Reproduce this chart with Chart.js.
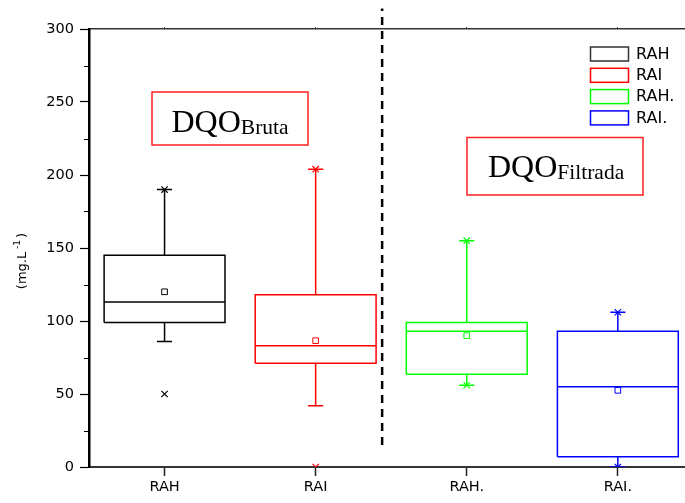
<!DOCTYPE html>
<html>
<head>
<meta charset="utf-8">
<script src="https://cdn.jsdelivr.net/npm/chart.js@4/dist/chart.umd.min.js"></script>
<style>
  html, body { margin: 0; padding: 0; background: #fff; }
  #wrap { width: 685px; height: 503px; overflow: hidden; position: relative; }
  canvas { display: block; }
</style>
</head>
<body>
<div id="wrap"><canvas id="box-chart" width="700" height="503"></canvas></div>
<script>
// dados (mg.L-1)
const categorias = ["RAH", "RAI", "RAH.", "RAI."];
const q1 = [99, 71, 63.5, 7];
const mediana = [113, 83, 93, 55];
const q3 = [145, 118, 99, 93];
const media = [120, 86.5, 90, 52.5];
const bigodeMin = [86, 42, 56, 0];
const bigodeMax = [190, 204, 155, 106];
const minimos = [50, 0, 56, 0];
const maximos = [190, 204, 155, 106];
const yTicks = [0, 50, 100, 150, 200, 250, 300];
const cores = ["#000000", "#ff0000", "#00ff00", "#0000ff"];

const meiaLargura = 0.4; // metade da largura da caixa
const meiaHaste = 0.05;  // metade do traço do bigode
const separador = 2.44;  // linha tracejada entre Bruta e Filtrada

// monta os datasets de cada caixa
const datasets = [];
categorias.forEach((cat, i) => {
  const x = i + 1;
  const cor = cores[i];
  const base = { type: "line", borderColor: cor, borderWidth: 1.5, pointRadius: 0, fill: false, tension: 0 };

  datasets.push({
    ...base,
    label: cat,
    data: [
      { x: x - meiaLargura, y: q1[i] },
      { x: x + meiaLargura, y: q1[i] },
      { x: x + meiaLargura, y: q3[i] },
      { x: x - meiaLargura, y: q3[i] },
      { x: x - meiaLargura, y: q1[i] },
    ],
  });

  datasets.push({
    ...base,
    data: [
      { x: x - meiaLargura, y: mediana[i] },
      { x: x + meiaLargura, y: mediana[i] },
    ],
  });

  datasets.push({
    ...base,
    spanGaps: false,
    data: [
      { x: x, y: q3[i] }, { x: x, y: bigodeMax[i] }, { x: x, y: null },
      { x: x, y: q1[i] }, { x: x, y: bigodeMin[i] }, { x: x, y: null },
      { x: x - meiaHaste, y: bigodeMax[i] }, { x: x + meiaHaste, y: bigodeMax[i] }, { x: x, y: null },
      { x: x - meiaHaste, y: bigodeMin[i] }, { x: x + meiaHaste, y: bigodeMin[i] },
    ],
  });

  datasets.push({
    type: "line",
    showLine: false,
    data: [{ x: x, y: media[i] }],
    pointStyle: "rect",
    pointRadius: 4,
    pointBorderWidth: 1,
    pointBorderColor: cor,
    pointBackgroundColor: "#fff",
  });

  datasets.push({
    type: "line",
    showLine: false,
    data: [{ x: x, y: minimos[i] }, { x: x, y: maximos[i] }],
    pointStyle: "crossRot",
    pointRadius: 4.5,
    pointBorderWidth: 1.2,
    pointBorderColor: cor,
  });
});

// linha tracejada separando os grupos
datasets.push({
  type: "line",
  data: [{ x: separador, y: 15 }, { x: separador, y: 314 }],
  borderColor: "#000",
  borderWidth: 2.5,
  borderDash: [8, 6],
  pointRadius: 0,
  clip: false,
});

// legenda, caixas de texto e detalhes do eixo
const extras = {
  id: "extras",
  afterDraw(chart) {
    const ctx = chart.ctx;
    const y = chart.scales.y;
    const area = chart.chartArea;
    ctx.save();

    // ticks menores do eixo y
    ctx.strokeStyle = "#000";
    ctx.lineWidth = 1;
    for (let v = 25; v < 300; v += 50) {
      const py = Math.round(y.getPixelForValue(v)) + 0.5;
      ctx.beginPath();
      ctx.moveTo(area.left - 5, py);
      ctx.lineTo(area.left, py);
      ctx.stroke();
    }

    // título do eixo y
    ctx.save();
    ctx.translate(26, 262);
    ctx.rotate(-Math.PI / 2);
    ctx.fillStyle = "#000";
    ctx.textBaseline = "alphabetic";
    ctx.font = "13px 'DejaVu Sans'";
    const t1 = "(mg.L";
    const w1 = ctx.measureText(t1).width;
    ctx.font = "9px 'DejaVu Sans'";
    const t2 = " -1";
    const w2 = ctx.measureText(t2).width;
    ctx.font = "13px 'DejaVu Sans'";
    const w3 = ctx.measureText(")").width;
    let sx = -(w1 + w2 + w3) / 2;
    ctx.fillText(t1, sx, 0);
    ctx.font = "9px 'DejaVu Sans'";
    ctx.fillText(t2, sx + w1, -6);
    ctx.font = "13px 'DejaVu Sans'";
    ctx.fillText(")", sx + w1 + w2 + 2, 0);
    ctx.restore();

    // legenda
    ctx.font = "16px 'DejaVu Sans'";
    ctx.textBaseline = "middle";
    categorias.forEach((cat, i) => {
      const ly = 47 + i * 21.3;
      ctx.strokeStyle = i === 0 ? "#333" : cores[i];
      ctx.lineWidth = 1.5;
      ctx.strokeRect(590.5, ly, 38, 14);
      ctx.fillStyle = "#000";
      ctx.fillText(cat, 636, ly + 7.5);
    });

    // caixas DQO
    const caixa = (x, yTop, w, h, tx, base, sub) => {
      ctx.strokeStyle = "#ff2020";
      ctx.lineWidth = 1.5;
      ctx.strokeRect(x, yTop, w, h);
      ctx.fillStyle = "#000";
      ctx.textBaseline = "alphabetic";
      ctx.font = "32px 'Liberation Serif'";
      ctx.fillText("DQO", tx, base);
      const dw = ctx.measureText("DQO").width;
      ctx.font = "21.5px 'Liberation Serif'";
      ctx.fillText(sub, tx + dw, base + 2.5);
    };
    caixa(152, 92, 156, 53, 171.5, 131.5, "Bruta");
    caixa(467, 137.5, 176, 57.5, 488, 176.5, "Filtrada");

    ctx.restore();
  },
};

const ctx1 = document.getElementById("box-chart").getContext("2d");

new Chart(ctx1, {
  type: "line",
  data: { datasets: datasets },
  options: {
    responsive: false,
    animation: false,
    layout: { padding: { left: 0, right: 6.6, top: 0, bottom: 0 } },
    plugins: { legend: { display: false }, tooltip: { enabled: false } },
    scales: {
      x: {
        type: "linear",
        position: "bottom",
        min: 0.5,
        max: 4.5,
        afterBuildTicks: (s) => { s.ticks = categorias.map((c, i) => ({ value: i + 1 })); },
        afterFit: (s) => { s.height = 36; },
        ticks: {
          callback: (v) => categorias[v - 1],
          color: "#000",
          font: { family: "'DejaVu Sans'", size: 14.5 },
          padding: 3,
          maxRotation: 0,
        },
        grid: { drawOnChartArea: false, tickLength: 9, tickColor: "#222", tickWidth: 1.5 },
        border: { color: "#333", width: 2 },
      },
      xTop: {
        type: "linear",
        position: "top",
        min: 0.5,
        max: 4.5,
        afterBuildTicks: (s) => { s.ticks = categorias.map((c, i) => ({ value: i + 1 })); },
        afterFit: (s) => { s.height = 29; },
        ticks: { display: false },
        grid: { drawOnChartArea: false, tickLength: 2, tickColor: "#333" },
        border: { color: "#333", width: 1.5 },
      },
      y: {
        min: 0,
        max: 300,
        afterBuildTicks: (s) => { s.ticks = yTicks.map((v) => ({ value: v })); },
        afterFit: (s) => { s.width = 89; },
        ticks: {
          color: "#000",
          font: { family: "'DejaVu Sans'", size: 14.5 },
          padding: 6,
        },
        grid: { drawOnChartArea: false, tickLength: 9, tickColor: "#000", tickWidth: 1.2 },
        border: { color: "#000", width: 2.5 },
      },
    },
  },
  plugins: [extras],
});
</script>
</body>
</html>
